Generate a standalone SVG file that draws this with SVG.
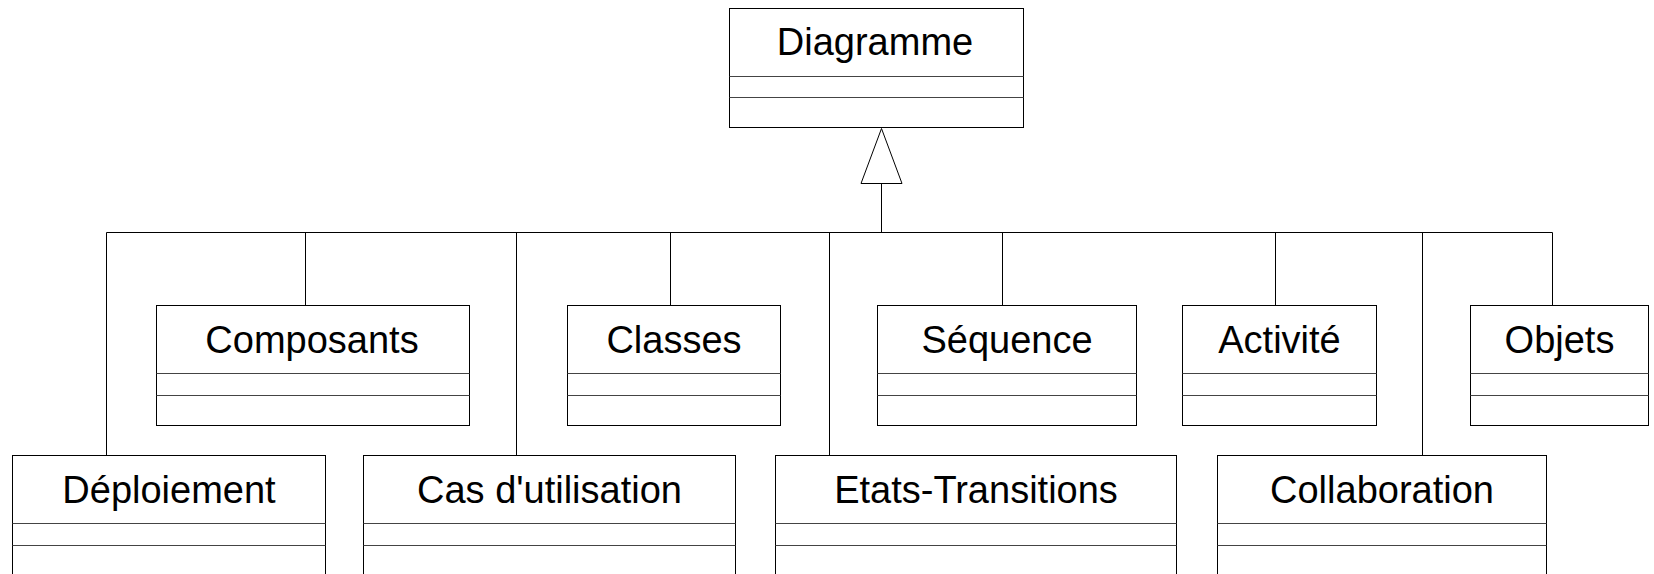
<svg xmlns="http://www.w3.org/2000/svg" width="1654" height="574" viewBox="0 0 1654 574">
<style>
.box{fill:#fff;stroke:#000;stroke-width:1}
.sep{stroke:#444;stroke-width:1}
.lbl{font-family:"Liberation Sans",Arial,sans-serif;font-size:38px;fill:#000;text-anchor:middle}
.con{fill:none;stroke:#000;stroke-width:1}
</style>
<rect width="1654" height="574" fill="#fff"/>
<g id="connectors">
<path class="con" d="M106.5,232.5H1552.5"/>
<path class="con" d="M881.5,183.5V232.5"/>
<polygon class="con" points="881.5,128.5 861,183.5 902,183.5"/>
<path class="con" d="M106.5,232.5V455.5M305.5,232.5V305.5M516.5,232.5V455.5M670.5,232.5V305.5M829.5,232.5V455.5M1002.5,232.5V305.5M1275.5,232.5V305.5M1422.5,232.5V455.5M1552.5,232.5V305.5"/>
</g>
<g id="diagramme">
<rect class="box" x="729.5" y="8.5" width="294" height="119"/>
<path class="sep" d="M729.5,76.5H1023.5M729.5,97.5H1023.5"/>
<text class="lbl" x="875" y="55">Diagramme</text>
</g>
<g id="composants">
<rect class="box" x="156.5" y="305.5" width="313" height="120"/>
<path class="sep" d="M156.5,373.5H469.5M156.5,395.5H469.5"/>
<text class="lbl" x="312" y="353">Composants</text>
</g>
<g id="classes">
<rect class="box" x="567.5" y="305.5" width="213" height="120"/>
<path class="sep" d="M567.5,373.5H780.5M567.5,395.5H780.5"/>
<text class="lbl" x="674" y="353">Classes</text>
</g>
<g id="sequence">
<rect class="box" x="877.5" y="305.5" width="259" height="120"/>
<path class="sep" d="M877.5,373.5H1136.5M877.5,395.5H1136.5"/>
<text class="lbl" x="1007" y="353">Séquence</text>
</g>
<g id="activite">
<rect class="box" x="1182.5" y="305.5" width="194" height="120"/>
<path class="sep" d="M1182.5,373.5H1376.5M1182.5,395.5H1376.5"/>
<text class="lbl" x="1279.5" y="353">Activité</text>
</g>
<g id="objets">
<rect class="box" x="1470.5" y="305.5" width="178" height="120"/>
<path class="sep" d="M1470.5,373.5H1648.5M1470.5,395.5H1648.5"/>
<text class="lbl" x="1559.5" y="353">Objets</text>
</g>
<g id="deploiement">
<rect class="box" x="12.5" y="455.5" width="313" height="140"/>
<path class="sep" d="M12.5,523.5H325.5M12.5,545.5H325.5"/>
<text class="lbl" x="169" y="503">Déploiement</text>
</g>
<g id="cas">
<rect class="box" x="363.5" y="455.5" width="372" height="140"/>
<path class="sep" d="M363.5,523.5H735.5M363.5,545.5H735.5"/>
<text class="lbl" x="549.5" y="503">Cas d'utilisation</text>
</g>
<g id="etats">
<rect class="box" x="775.5" y="455.5" width="401" height="140"/>
<path class="sep" d="M775.5,523.5H1176.5M775.5,545.5H1176.5"/>
<text class="lbl" x="976" y="503">Etats-Transitions</text>
</g>
<g id="collaboration">
<rect class="box" x="1217.5" y="455.5" width="329" height="140"/>
<path class="sep" d="M1217.5,523.5H1546.5M1217.5,545.5H1546.5"/>
<text class="lbl" x="1382" y="503">Collaboration</text>
</g>
</svg>
